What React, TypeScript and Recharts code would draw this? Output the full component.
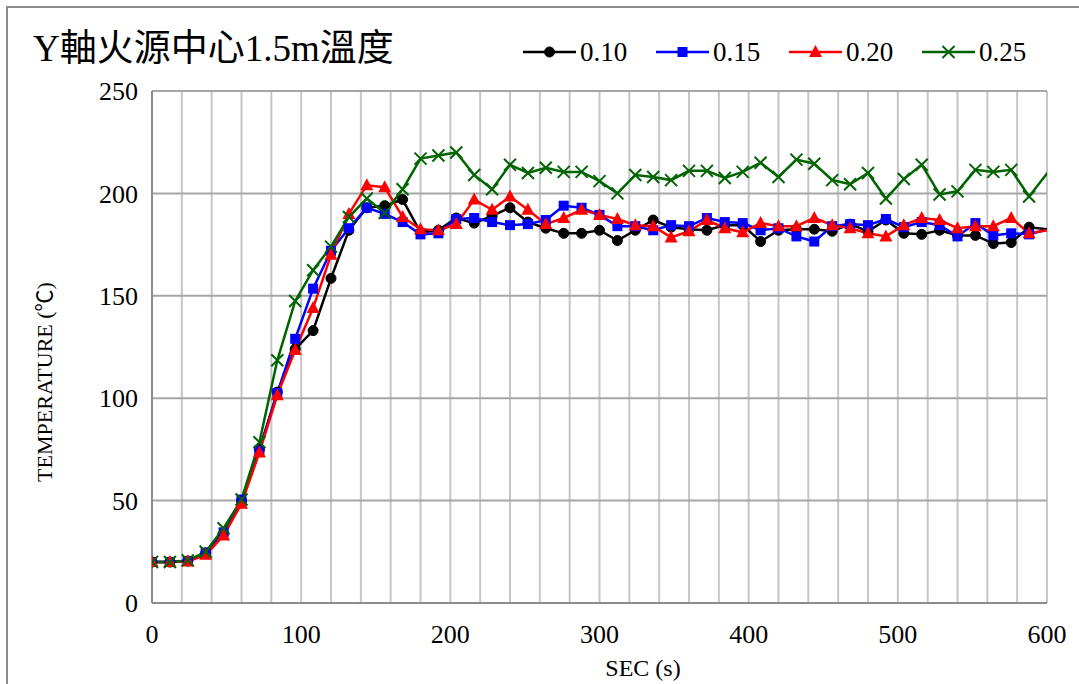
import React from "react";
import { LineChart, Line, XAxis, YAxis, CartesianGrid } from "recharts";

const times = [0, 12, 24, 36, 48, 60, 72, 84, 96, 108, 120, 132, 144, 156, 168, 180, 192, 204, 216, 228, 240, 252, 264, 276, 288, 300, 312, 324, 336, 348, 360, 372, 384, 396, 408, 420, 432, 444, 456, 468, 480, 492, 504, 516, 528, 540, 552, 564, 576, 588, 612];

const s010 = [20, 20, 20.5, 24.5, 34, 50, 75, 103, 124, 133, 158.5, 182, 193, 194, 197, 181, 182, 188, 185.5, 189, 193, 186, 183, 180.5, 180.5, 182, 177, 182, 187, 183.5, 182.5, 182, 184.5, 184.5, 176.5, 182, 182.5, 182.5, 181.5, 185, 181.5, 187, 180.5, 180, 182, 179.5, 179.5, 175.5, 176, 183.5, 181.5];
const s015 = [20, 20, 20.5, 24.5, 34.5, 50.5, 74.5, 102.5, 129, 153.5, 172, 183, 193, 190, 186, 180, 180.5, 187.5, 188, 186, 184.5, 185, 187, 194, 193, 189.5, 184, 184, 182, 184.5, 184, 188, 186, 185.5, 182, 183, 179, 176.5, 184, 185, 184.5, 187.5, 183.5, 186, 184.5, 179, 185.5, 179.5, 180.5, 180, 184.5];
const s020 = [20, 20, 20.3, 23.5, 33, 48.5, 73.5, 101.5, 123.5, 144, 170, 190, 204, 203, 188.5, 182.5, 182, 185, 197, 192, 198.5, 192, 185, 188, 192, 189.5, 187.5, 184.5, 184, 178.5, 181.5, 187, 183, 181, 185.5, 184, 184, 188, 184.5, 183, 180.5, 179, 184.5, 188, 187, 183, 184, 184, 188, 180.5, 183.5];
const s025 = [20, 20, 20.8, 25, 36.5, 50.5, 78.5, 118.5, 147.5, 162.5, 174, 188.5, 197.5, 190.5, 202, 217, 218.5, 220, 209, 202, 214, 210, 212.5, 210.5, 210.5, 206, 200, 209, 208, 206.5, 211, 211, 207.5, 210.5, 215, 208, 216.5, 214.5, 206.5, 204.5, 210, 197.5, 207, 214, 199.5, 201, 211.5, 210.5, 211.5, 198.5, 221];

const seriesNames = ["0.10", "0.15", "0.20", "0.25"];
const seriesKeys = ["s010", "s015", "s020", "s025"];
const seriesColors = ["#000000", "#0000FF", "#FF0000", "#006400"];
const seriesShapes = ["circle", "square", "triangle", "cross"];

const xTicks = [0, 20, 40, 60, 80, 100, 120, 140, 160, 180, 200, 220, 240, 260, 280, 300, 320, 340, 360, 380, 400, 420, 440, 460, 480, 500, 520, 540, 560, 580, 600];
const yTicks = [0, 50, 100, 150, 200, 250];

const data = times.map((t, i) => ({ t, s010: s010[i], s015: s015[i], s020: s020[i], s025: s025[i] }));

const FONT = "'Liberation Serif', 'Times New Roman', 'Noto Sans CJK TC', serif";

function Marker({ shape, color, cx, cy }: { shape: string; color: string; cx: number; cy: number }) {
  if (shape === "circle") return <circle cx={cx} cy={cy} r={5} fill={color} stroke={color} />;
  if (shape === "square") return <rect x={cx - 5} y={cy - 5} width={10} height={10} fill={color} />;
  if (shape === "triangle")
    return <polygon points={`${cx},${cy - 7} ${cx + 6.5},${cy + 5} ${cx - 6.5},${cy + 5}`} fill={color} />;
  return (
    <g stroke={color} strokeWidth={2}>
      <line x1={cx - 6} y1={cy - 6} x2={cx + 6} y2={cy + 6} />
      <line x1={cx - 6} y1={cy + 6} x2={cx + 6} y2={cy - 6} />
    </g>
  );
}

function XTick(props: any) {
  const { x, y, payload } = props;
  if (payload.value % 100 !== 0) return <g />;
  return (
    <text x={x} y={y} dy="0.71em" textAnchor="middle" fontFamily={FONT} fontSize={26} fill="#000">
      {payload.value}
    </text>
  );
}

function YTick(props: any) {
  const { x, y, payload } = props;
  return (
    <text x={x} y={y} dy="0.35em" textAnchor="end" fontFamily={FONT} fontSize={26} fill="#000">
      {payload.value}
    </text>
  );
}

export default function App() {
  return (
    <div style={{ position: "absolute", left: 0, top: 0, width: 1079, height: 684, background: "#fff", overflow: "hidden", fontFamily: FONT }}>
      <div style={{ position: "absolute", left: 6, top: 6, width: 1090, height: 700, border: "2px solid #8c8c8c", boxSizing: "border-box" }} />
      <div style={{ position: "absolute", left: 33, top: 28, fontSize: 37, lineHeight: "42px", color: "#000", whiteSpace: "nowrap" }}>
        Y軸火源中心1.5m溫度
      </div>
      <div style={{ position: "absolute", left: 523, top: 36, display: "flex", alignItems: "center", height: 32 }}>
        {seriesNames.map((n, i) => (
          <div key={n} style={{ display: "flex", alignItems: "center", width: 133 }}>
            <svg width={53} height={20}>
              <line x1={0} y1={10} x2={53} y2={10} stroke={seriesColors[i]} strokeWidth={2.5} />
              <Marker shape={seriesShapes[i]} color={seriesColors[i]} cx={26.5} cy={10} />
            </svg>
            <span style={{ fontSize: 27, marginLeft: 4, color: "#000" }}>{n}</span>
          </div>
        ))}
      </div>
      <div style={{ position: "absolute", left: 0, top: 0 }}>
        <LineChart width={1079} height={684} data={data} margin={{ top: 91, right: 32, bottom: 21, left: 92 }}>
          <CartesianGrid horizontal={false} vertical={true} stroke="#c6c6c6" strokeWidth={2} />
          <CartesianGrid horizontal={true} vertical={false} stroke="#a6a6a6" strokeWidth={2} />
          <XAxis
            dataKey="t"
            type="number"
            domain={[0, 600]}
            allowDataOverflow
            ticks={xTicks}
            interval={0}
            tick={<XTick />}
            tickLine={false}
            tickSize={0}
            tickMargin={22}
            height={60}
            axisLine={{ stroke: "#8c8c8c", strokeWidth: 2 }}
            label={{
              content: () => (
                <text x={643} y={676} textAnchor="middle" fontFamily={FONT} fontSize={24} fill="#000">
                  SEC (s)
                </text>
              ),
            }}
          />
          <YAxis
            type="number"
            domain={[0, 250]}
            ticks={yTicks}
            interval={0}
            tick={<YTick />}
            tickLine={false}
            tickSize={0}
            tickMargin={14}
            width={60}
            axisLine={{ stroke: "#8c8c8c", strokeWidth: 2 }}
            label={{
              content: () => (
                <text x={0} y={0} transform="translate(52,382) rotate(-90)" textAnchor="middle" fontFamily={FONT} fontSize={22} fill="#000">
                  TEMPERATURE (℃)
                </text>
              ),
            }}
          />
          {seriesKeys.map((k, i) => (
            <Line
              key={k}
              dataKey={k}
              name={seriesNames[i]}
              stroke={seriesColors[i]}
              strokeWidth={2.5}
              isAnimationActive={false}
              dot={(p: any) => <Marker key={`${k}-${p.index}`} shape={seriesShapes[i]} color={seriesColors[i]} cx={p.cx} cy={p.cy} />}
              activeDot={false}
            />
          ))}
        </LineChart>
      </div>
    </div>
  );
}
